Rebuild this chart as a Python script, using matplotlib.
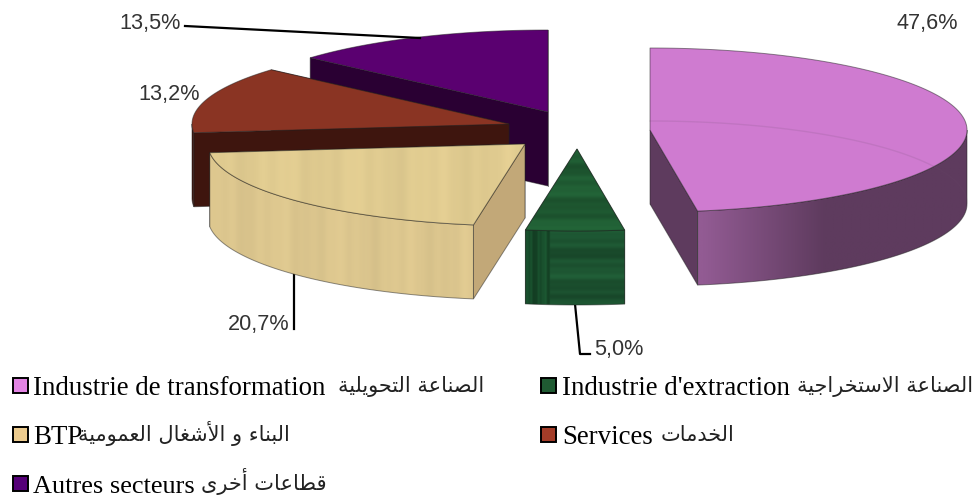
import matplotlib
matplotlib.use('Agg')
import matplotlib.pyplot as plt
from matplotlib.colors import to_rgb
from matplotlib.patches import Polygon, Rectangle
import numpy as np

shares = [47.6, 5.0, 20.7, 13.2, 13.5]
share_labels = ['47,6%', '5,0%', '20,7%', '13,2%', '13,5%']
legend_fr = ['Industrie de transformation', "Industrie d'extraction", 'BTP', 'Services', 'Autres secteurs']
legend_ar = ['الصناعة التحويلية', 'الصناعة الاستخراجية', 'البناء و الأشغال العمومية', 'الخدمات', 'قطاعات أخرى']
top_colors = ['#cf7bd0', '#1f5a32', '#e0cb90', '#8a3423', '#5a0070']
wall_colors = ['#5e3b5e', '#1c5230', '#dcc68e', '#3e150e', '#2a0033']
side_colors = ['#5e3b5e', '#1c5230', '#c2a878', '#3e150e', '#2a0033']
swatch_colors = ['#e384e4', '#1f5a32', '#eccb8e', '#a33c28', '#560078']

# slice layout, in pixels
centers = [(650, 131), (577, 150), (525, 145), (509, 125), (548, 113)]
RX, RY, DEPTH = 317, 82, 74

FORMS = {
    'ا': 'ﺍﺎ', 'أ': 'ﺃﺄ', 'د': 'ﺩﺪ', 'ر': 'ﺭﺮ', 'و': 'ﻭﻮ', 'ى': 'ﻯﻰ', 'ة': 'ﺓﺔ',
    'ء': 'ء',
    'ب': 'ﺏﺐﺑﺒ', 'ت': 'ﺕﺖﺗﺘ', 'ج': 'ﺝﺞﺟﺠ', 'ح': 'ﺡﺢﺣﺤ', 'خ': 'ﺥﺦﺧﺨ', 'س': 'ﺱﺲﺳﺴ',
    'ش': 'ﺵﺶﺷﺸ', 'ص': 'ﺹﺺﺻﺼ', 'ط': 'ﻁﻂﻃﻄ', 'ع': 'ﻉﻊﻋﻌ', 'غ': 'ﻍﻎﻏﻐ', 'ق': 'ﻕﻖﻗﻘ',
    'ل': 'ﻝﻞﻟﻠ', 'م': 'ﻡﻢﻣﻤ', 'ن': 'ﻥﻦﻧﻨ', 'ي': 'ﻱﻲﻳﻴ',
}


def shape_arabic(text):
    # matplotlib does no arabic shaping, so pick the joined forms by hand
    text = text.replace('لا', '\ufefb').replace('لأ', '\ufef7')
    out = []
    for i, ch in enumerate(text):
        prev = text[i - 1] if i > 0 else ' '
        nxt = text[i + 1] if i + 1 < len(text) else ' '
        joins_prev = len(FORMS.get(prev, '')) == 4
        joins_next = nxt in FORMS or nxt in '\ufefb\ufef7'
        if ch in '\ufefb\ufef7':
            out.append(chr(ord(ch) + 1) if joins_prev else ch)
        elif ch not in FORMS:
            out.append(ch)
        else:
            f = FORMS[ch]
            if len(f) == 1:
                out.append(f)
            elif len(f) == 2:
                out.append(f[1] if joins_prev else f[0])
            elif joins_prev and joins_next:
                out.append(f[3])
            elif joins_prev:
                out.append(f[1])
            elif joins_next:
                out.append(f[2])
            else:
                out.append(f[0])
    return ''.join(reversed(out))


def rim_xy(cx, cy, theta):
    t = np.radians(theta)
    return cx + RX * np.sin(t), cy - RY * np.cos(t)


def stripes(color, horizontal, amp, seed, freq=1.0):
    # simple woody/marble look from a few sines
    s = np.linspace(0, 1, 240) * freq
    wave = (np.sin(s * 37 + seed) + 0.7 * np.sin(s * 91 + 2 * seed) + 0.5 * np.sin(s * 173 + seed * 3)) / 2.2
    wave = wave[:, None] if horizontal else wave[None, :]
    rgb = np.array(to_rgb(color))[None, None, :]
    return np.clip(rgb * (1 + amp * wave[:, :, None]), 0, 1)


fig, ax = plt.subplots(figsize=(9.79, 5.02), dpi=100)
fig.subplots_adjust(0, 0, 1, 1)
ax.axis('off')
z = [1]


def face(pts, color, edge='#20202080', image=None):
    z[0] += 1
    pts = np.array(pts)
    if image is None:
        ax.add_patch(Polygon(pts, closed=True, facecolor=color, edgecolor=edge, linewidth=0.7, zorder=z[0]))
        return
    x0, x1, y0, y1 = pts[:, 0].min(), pts[:, 0].max(), pts[:, 1].min(), pts[:, 1].max()
    clip = Polygon(pts, closed=True, facecolor='none', edgecolor=edge, linewidth=0.7, zorder=z[0] + 0.5)
    ax.add_patch(clip)
    im = ax.imshow(image, extent=(x0, x1, y1, y0), aspect='auto', interpolation='bilinear', zorder=z[0])
    im.set_clip_path(clip)


starts = np.concatenate([[0], np.cumsum(shares)[:-1]]) * 3.6
ends = np.cumsum(shares) * 3.6

# painter's order: back slices first
for i in [4, 3, 2, 0, 1]:
    cx, cy = centers[i]
    t1, t2 = starts[i], ends[i]
    arc = np.linspace(t1, t2, 120)
    ax_pts = [rim_xy(cx, cy, t) for t in arc]

    # radial walls, the one further back goes first
    walls = sorted([t1, t2], key=lambda t: rim_xy(cx, cy, t)[1])
    for t in walls:
        x, y = rim_xy(cx, cy, t)
        face([(cx, cy), (x, y), (x, y + DEPTH), (cx, cy + DEPTH)], side_colors[i])

    # outer wall
    lo, hi = max(t1, 90), min(t2, 270)
    if hi > lo:
        top_edge = [rim_xy(cx, cy, t) for t in np.linspace(lo, hi, 100)]
        pts = top_edge + [(x, y + DEPTH) for x, y in reversed(top_edge)]
        if i == 0:
            s = np.linspace(0, 1, 300)
            grad = np.clip((0.47 - s) / 0.45, 0, 1)[None, :, None]
            dark, light = np.array(to_rgb('#5e3b5e')), np.array(to_rgb('#925b93'))
            face(pts, None, image=dark + grad * (light - dark))
        elif i == 2:
            face(pts, None, image=stripes(wall_colors[i], False, 0.03, 1.3, 0.7))
        elif i == 1:
            # left part of the block has an upright grain
            img = np.repeat(stripes(wall_colors[i], True, 0.18, 0.4, 0.35), 240, axis=1)
            grain = np.repeat(stripes('#174a2a', False, 0.25, 1.1, 1.0), 240, axis=0)
            img[:, :60, :] = grain[:, :60, :]
            face(pts, None, image=img)
        else:
            face(pts, wall_colors[i])

    # top
    pts = [(cx, cy)] + ax_pts
    if i == 2:
        face(pts, None, image=stripes(top_colors[i], False, 0.03, 2.1, 0.7))
    elif i == 1:
        face(pts, None, image=stripes(top_colors[i], True, 0.16, 1.7, 0.35))
    else:
        face(pts, top_colors[i])

# the back edge of the large slice shows faintly through it
cx, cy = centers[0]
back = np.array([rim_xy(cx, cy, t) for t in np.linspace(0, 90, 60)])
ax.plot(back[:, 0], back[:, 1] + DEPTH - 1, color='#6a4a6a', alpha=0.14, lw=1, zorder=1000)

# leader lines
ax.plot([185, 420], [27, 39], color='black', lw=1.6, zorder=30)
ax.plot([294, 294], [275, 330], color='black', lw=1.6, zorder=1)
ax.plot([575, 580, 590], [305, 355, 355], color='black', lw=1.6, zorder=1)

label_pos = [(897, 29), (594, 355), (228, 330), (138, 100), (119, 29)]
for s, (x, y) in zip(share_labels, label_pos):
    ax.text(x, y, s, family='Liberation Sans', fontsize=15.6, color='#333333', ha='left', va='baseline')

# legend
swatch_x = [13, 541, 13, 541, 13]
swatch_y = [379, 379, 428, 428, 477]
text_x = [33, 562, 33, 562, 33]
ar_right = [484, 973, 290, 735, 327]
fr_size = [19.4, 19.4, 19.4, 19.4, 18.9]
for i in range(5):
    ax.add_patch(Rectangle((swatch_x[i], swatch_y[i]), 15, 15, facecolor=swatch_colors[i], edgecolor='black', lw=1.4))
    base = swatch_y[i] + 16
    ax.text(text_x[i], base, legend_fr[i], family='Liberation Serif', fontsize=fr_size[i], color='black', va='baseline')
    ax.text(ar_right[i], base - 3, shape_arabic(legend_ar[i]), family='DejaVu Sans', fontsize=15,
            color='#222222', ha='right', va='baseline')

ax.set_xlim(0, 979)
ax.set_ylim(502, 0)
fig.savefig('out.png', dpi=100)
